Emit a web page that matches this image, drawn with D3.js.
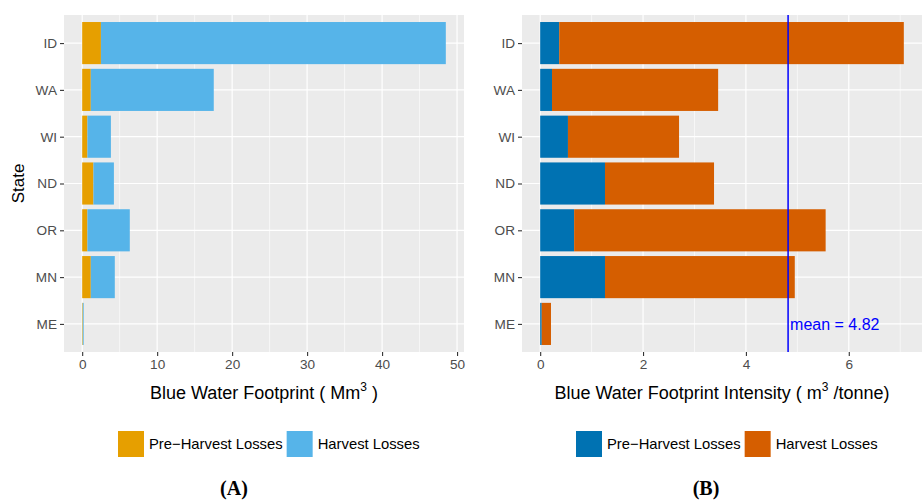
<!DOCTYPE html>
<html>
<head>
<meta charset="utf-8">
<script src="https://cdn.jsdelivr.net/npm/d3@7"></script>
<style>
  body { margin: 0; background: #fff; }
  svg { font-family: "Liberation Sans", Arial, sans-serif; }
</style>
</head>
<body>
<div id="chart-area"></div>
<script>
// Data
const states = ["ID", "WA", "WI", "ND", "OR", "MN", "ME"];
const lossTypes = ["Pre\u2212Harvest Losses", "Harvest Losses"];

// (A) blue water footprint, Mm3
const footprintPre = [2.5, 1.15, 0.7, 1.5, 0.7, 1.15, 0.08];
const footprintHarvest = [46.0, 16.4, 3.13, 2.73, 5.65, 3.2, 0.12];
const footprintTicks = [0, 10, 20, 30, 40, 50];

// (B) blue water footprint intensity, m3/tonne
const intensityPre = [0.37, 0.23, 0.54, 1.26, 0.66, 1.26, 0.03];
const intensityHarvest = [6.70, 3.23, 2.16, 2.12, 4.89, 3.69, 0.18];
const intensityTicks = [0, 2, 4, 6];
const intensityMean = 4.82;

const svg = d3.select("#chart-area").append("svg")
    .attr("width", 924)
    .attr("height", 501);

const panelTop = 15, panelBottom = 352;

function panel(opts) {
    const rows = states.map((s, i) => ({ state: s, pre: opts.pre[i], harvest: opts.harvest[i] }));
    const stack = d3.stack().keys(["pre", "harvest"])(rows);
    const maxV = d3.max(rows, d => d.pre + d.harvest);
    const ext = maxV * 0.05;

    const x = d3.scaleLinear().domain([-ext, maxV + ext]).range([opts.left, opts.right]);
    const y = d3.scalePoint().domain(states).range([panelTop, panelBottom]).padding(0.6);
    const bh = y.step() * 0.9;

    const g = svg.append("g");

    // panel background
    g.append("rect")
        .attr("x", opts.left).attr("y", panelTop)
        .attr("width", opts.right - opts.left).attr("height", panelBottom - panelTop)
        .attr("fill", "#EBEBEB");

    // grid lines
    const major = opts.ticks;
    const minor = d3.range(major[0] + opts.step / 2, x.domain()[1], opts.step);
    g.selectAll(".minor").data(minor).enter().append("line")
        .attr("x1", d => x(d)).attr("x2", d => x(d))
        .attr("y1", panelTop).attr("y2", panelBottom)
        .attr("stroke", "#fff").attr("stroke-width", 0.6);
    g.selectAll(".majorx").data(major).enter().append("line")
        .attr("x1", d => x(d)).attr("x2", d => x(d))
        .attr("y1", panelTop).attr("y2", panelBottom)
        .attr("stroke", "#fff").attr("stroke-width", 1.2);
    g.selectAll(".majory").data(states).enter().append("line")
        .attr("x1", opts.left).attr("x2", opts.right)
        .attr("y1", d => y(d)).attr("y2", d => y(d))
        .attr("stroke", "#fff").attr("stroke-width", 1.2);

    // bars
    g.selectAll(".layer").data(stack).enter().append("g")
        .attr("fill", (d, i) => opts.colors[i])
        .selectAll("rect").data(d => d).enter().append("rect")
        .attr("x", d => x(d[0]))
        .attr("width", d => x(d[1]) - x(d[0]))
        .attr("y", d => y(d.data.state) - bh / 2)
        .attr("height", bh);

    // mean line
    if (opts.mean != null) {
        g.append("line")
            .attr("x1", x(opts.mean)).attr("x2", x(opts.mean))
            .attr("y1", panelTop).attr("y2", panelBottom)
            .attr("stroke", "#0000FF").attr("stroke-width", 1.5);
        g.append("text")
            .attr("x", x(opts.mean) + 2)
            .attr("y", y("ME") + 6)
            .attr("fill", "#0000FF")
            .style("font-size", "16px")
            .text("mean = " + opts.mean);
    }

    // axes
    const xAxis = g.append("g")
        .attr("transform", "translate(0," + panelBottom + ")")
        .call(d3.axisBottom(x).tickValues(major).tickSize(4).tickPadding(3));
    const yAxis = g.append("g")
        .attr("transform", "translate(" + opts.left + ",0)")
        .call(d3.axisLeft(y).tickSize(4).tickPadding(3));
    [xAxis, yAxis].forEach(a => {
        a.select(".domain").remove();
        a.selectAll(".tick line").attr("stroke", "#333333").attr("stroke-width", 1.1);
        a.selectAll(".tick text")
            .attr("fill", "#4D4D4D")
            .style("font-size", "13.6px")
            .style("font-family", "Liberation Sans, Arial, sans-serif");
    });

    // x title
    const t = g.append("text")
        .attr("x", (opts.left + opts.right) / 2)
        .attr("y", 399)
        .attr("text-anchor", "middle")
        .style("font-size", "18px")
        .attr("fill", "#000");
    t.append("tspan").text(opts.title[0]);
    t.append("tspan").attr("dy", -8).style("font-size", "12px").text("3");
    t.append("tspan").attr("dy", 8).text(opts.title[1]);

    // legend
    const lg = g.append("g").attr("transform", "translate(" + opts.legendX + ",431)");
    let lx = 0;
    lossTypes.forEach((name, i) => {
        lg.append("rect").attr("x", lx).attr("y", 0)
            .attr("width", 26).attr("height", 26)
            .attr("fill", opts.colors[i]);
        const txt = lg.append("text")
            .attr("x", lx + 31).attr("y", 18)
            .style("font-size", "14.8px")
            .attr("fill", "#000")
            .text(name);
        lx += 31 + txt.node().getComputedTextLength() + 4;
    });

    // panel letter
    svg.append("text")
        .attr("x", opts.labelX).attr("y", 495)
        .attr("text-anchor", "middle")
        .style("font-family", "Liberation Serif, DejaVu Serif, serif")
        .style("font-weight", "bold")
        .style("font-size", "20px")
        .text(opts.label);
}

panel({
    left: 64, right: 464,
    pre: footprintPre, harvest: footprintHarvest,
    ticks: footprintTicks, step: 10,
    colors: ["#E69F00", "#56B4E9"],
    title: ["Blue Water Footprint ( Mm", " )"],
    legendX: 118, labelX: 234, label: "(A)"
});

panel({
    left: 522, right: 922,
    pre: intensityPre, harvest: intensityHarvest,
    ticks: intensityTicks, step: 2,
    colors: ["#0072B2", "#D55E00"],
    mean: intensityMean,
    title: ["Blue Water Footprint Intensity ( m", " /tonne)"],
    legendX: 576, labelX: 706, label: "(B)"
});

// y title
svg.append("text")
    .attr("transform", "translate(24," + ((panelTop + panelBottom) / 2) + ") rotate(-90)")
    .attr("text-anchor", "middle")
    .style("font-size", "17px")
    .text("State");
</script>
</body>
</html>
